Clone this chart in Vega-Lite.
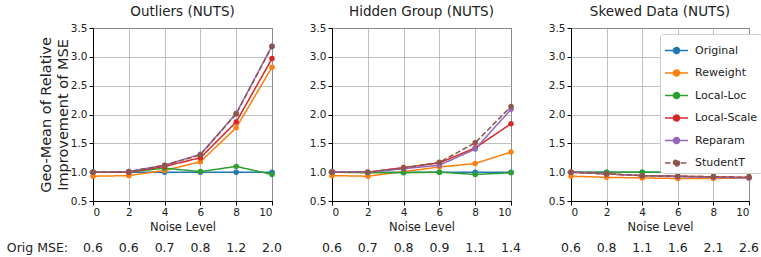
{
  "$schema": "https://vega.github.io/schema/vega-lite/v6.json",
  "padding": {"left": 6, "top": 4, "right": 0, "bottom": 0},
  "bounds": "flush",
  "spacing": 60,
  "config": {
    "font": "DejaVu Sans",
    "view": {"stroke": "black", "strokeWidth": 1},
    "axis": {"domainColor": "black", "tickColor": "black", "labelColor": "#222", "titleColor": "#222", "gridColor": "#b0b0b0", "gridWidth": 0.8, "labelFontSize": 10.5, "titleFontWeight": "normal", "tickSize": 4, "labelPadding": 2, "labelOverlap": false},
    "axisX": {"values": [0, 2, 4, 6, 8, 10], "titleFontSize": 11.5, "titlePadding": 4},
    "axisY": {"values": [0.5, 1, 1.5, 2, 2.5, 3, 3.5], "format": ".1f"},
    "title": {"fontSize": 13.5, "fontWeight": "normal", "color": "#222", "offset": 5},
    "text": {"font": "DejaVu Sans"}
  },
  "datasets": {
    "series": [
      {"panel": "Outliers", "method": "Original", "noise": 0, "value": 1.0},
      {"panel": "Outliers", "method": "Original", "noise": 2, "value": 1.0},
      {"panel": "Outliers", "method": "Original", "noise": 4, "value": 1.0},
      {"panel": "Outliers", "method": "Original", "noise": 6, "value": 1.0},
      {"panel": "Outliers", "method": "Original", "noise": 8, "value": 1.0},
      {"panel": "Outliers", "method": "Original", "noise": 10, "value": 1.0},
      {"panel": "Outliers", "method": "Reweight", "noise": 0, "value": 0.93},
      {"panel": "Outliers", "method": "Reweight", "noise": 2, "value": 0.94},
      {"panel": "Outliers", "method": "Reweight", "noise": 4, "value": 1.03},
      {"panel": "Outliers", "method": "Reweight", "noise": 6, "value": 1.18},
      {"panel": "Outliers", "method": "Reweight", "noise": 8, "value": 1.77},
      {"panel": "Outliers", "method": "Reweight", "noise": 10, "value": 2.82},
      {"panel": "Outliers", "method": "Local-Loc", "noise": 0, "value": 1.0},
      {"panel": "Outliers", "method": "Local-Loc", "noise": 2, "value": 1.0},
      {"panel": "Outliers", "method": "Local-Loc", "noise": 4, "value": 1.07},
      {"panel": "Outliers", "method": "Local-Loc", "noise": 6, "value": 1.01},
      {"panel": "Outliers", "method": "Local-Loc", "noise": 8, "value": 1.10},
      {"panel": "Outliers", "method": "Local-Loc", "noise": 10, "value": 0.96},
      {"panel": "Outliers", "method": "Local-Scale", "noise": 0, "value": 1.0},
      {"panel": "Outliers", "method": "Local-Scale", "noise": 2, "value": 1.0},
      {"panel": "Outliers", "method": "Local-Scale", "noise": 4, "value": 1.10},
      {"panel": "Outliers", "method": "Local-Scale", "noise": 6, "value": 1.25},
      {"panel": "Outliers", "method": "Local-Scale", "noise": 8, "value": 1.87},
      {"panel": "Outliers", "method": "Local-Scale", "noise": 10, "value": 2.97},
      {"panel": "Outliers", "method": "Reparam", "noise": 0, "value": 1.0},
      {"panel": "Outliers", "method": "Reparam", "noise": 2, "value": 1.01},
      {"panel": "Outliers", "method": "Reparam", "noise": 4, "value": 1.12},
      {"panel": "Outliers", "method": "Reparam", "noise": 6, "value": 1.31},
      {"panel": "Outliers", "method": "Reparam", "noise": 8, "value": 2.02},
      {"panel": "Outliers", "method": "Reparam", "noise": 10, "value": 3.19},
      {"panel": "Outliers", "method": "StudentT", "noise": 0, "value": 1.0},
      {"panel": "Outliers", "method": "StudentT", "noise": 2, "value": 1.01},
      {"panel": "Outliers", "method": "StudentT", "noise": 4, "value": 1.12},
      {"panel": "Outliers", "method": "StudentT", "noise": 6, "value": 1.30},
      {"panel": "Outliers", "method": "StudentT", "noise": 8, "value": 2.01},
      {"panel": "Outliers", "method": "StudentT", "noise": 10, "value": 3.18},
      {"panel": "Hidden", "method": "Original", "noise": 0, "value": 1.0},
      {"panel": "Hidden", "method": "Original", "noise": 2, "value": 1.0},
      {"panel": "Hidden", "method": "Original", "noise": 4, "value": 1.0},
      {"panel": "Hidden", "method": "Original", "noise": 6, "value": 1.0},
      {"panel": "Hidden", "method": "Original", "noise": 8, "value": 1.0},
      {"panel": "Hidden", "method": "Original", "noise": 10, "value": 1.0},
      {"panel": "Hidden", "method": "Reweight", "noise": 0, "value": 0.94},
      {"panel": "Hidden", "method": "Reweight", "noise": 2, "value": 0.93},
      {"panel": "Hidden", "method": "Reweight", "noise": 4, "value": 1.01},
      {"panel": "Hidden", "method": "Reweight", "noise": 6, "value": 1.09},
      {"panel": "Hidden", "method": "Reweight", "noise": 8, "value": 1.15},
      {"panel": "Hidden", "method": "Reweight", "noise": 10, "value": 1.35},
      {"panel": "Hidden", "method": "Local-Loc", "noise": 0, "value": 1.0},
      {"panel": "Hidden", "method": "Local-Loc", "noise": 2, "value": 0.99},
      {"panel": "Hidden", "method": "Local-Loc", "noise": 4, "value": 0.99},
      {"panel": "Hidden", "method": "Local-Loc", "noise": 6, "value": 1.0},
      {"panel": "Hidden", "method": "Local-Loc", "noise": 8, "value": 0.96},
      {"panel": "Hidden", "method": "Local-Loc", "noise": 10, "value": 0.99},
      {"panel": "Hidden", "method": "Local-Scale", "noise": 0, "value": 1.01},
      {"panel": "Hidden", "method": "Local-Scale", "noise": 2, "value": 1.0},
      {"panel": "Hidden", "method": "Local-Scale", "noise": 4, "value": 1.08},
      {"panel": "Hidden", "method": "Local-Scale", "noise": 6, "value": 1.16},
      {"panel": "Hidden", "method": "Local-Scale", "noise": 8, "value": 1.42},
      {"panel": "Hidden", "method": "Local-Scale", "noise": 10, "value": 1.84},
      {"panel": "Hidden", "method": "Reparam", "noise": 0, "value": 1.01},
      {"panel": "Hidden", "method": "Reparam", "noise": 2, "value": 1.0},
      {"panel": "Hidden", "method": "Reparam", "noise": 4, "value": 1.06},
      {"panel": "Hidden", "method": "Reparam", "noise": 6, "value": 1.12},
      {"panel": "Hidden", "method": "Reparam", "noise": 8, "value": 1.40},
      {"panel": "Hidden", "method": "Reparam", "noise": 10, "value": 2.09},
      {"panel": "Hidden", "method": "StudentT", "noise": 0, "value": 1.0},
      {"panel": "Hidden", "method": "StudentT", "noise": 2, "value": 1.0},
      {"panel": "Hidden", "method": "StudentT", "noise": 4, "value": 1.07},
      {"panel": "Hidden", "method": "StudentT", "noise": 6, "value": 1.17},
      {"panel": "Hidden", "method": "StudentT", "noise": 8, "value": 1.51},
      {"panel": "Hidden", "method": "StudentT", "noise": 10, "value": 2.14},
      {"panel": "Skewed", "method": "Original", "noise": 0, "value": 1.0},
      {"panel": "Skewed", "method": "Original", "noise": 2, "value": 1.0},
      {"panel": "Skewed", "method": "Original", "noise": 4, "value": 1.0},
      {"panel": "Skewed", "method": "Original", "noise": 6, "value": 1.0},
      {"panel": "Skewed", "method": "Original", "noise": 8, "value": 1.0},
      {"panel": "Skewed", "method": "Original", "noise": 10, "value": 1.0},
      {"panel": "Skewed", "method": "Reweight", "noise": 0, "value": 0.93},
      {"panel": "Skewed", "method": "Reweight", "noise": 2, "value": 0.91},
      {"panel": "Skewed", "method": "Reweight", "noise": 4, "value": 0.90},
      {"panel": "Skewed", "method": "Reweight", "noise": 6, "value": 0.89},
      {"panel": "Skewed", "method": "Reweight", "noise": 8, "value": 0.89},
      {"panel": "Skewed", "method": "Reweight", "noise": 10, "value": 0.90},
      {"panel": "Skewed", "method": "Local-Loc", "noise": 0, "value": 1.0},
      {"panel": "Skewed", "method": "Local-Loc", "noise": 2, "value": 1.0},
      {"panel": "Skewed", "method": "Local-Loc", "noise": 4, "value": 1.0},
      {"panel": "Skewed", "method": "Local-Loc", "noise": 6, "value": 1.0},
      {"panel": "Skewed", "method": "Local-Loc", "noise": 8, "value": 1.0},
      {"panel": "Skewed", "method": "Local-Loc", "noise": 10, "value": 1.0},
      {"panel": "Skewed", "method": "Local-Scale", "noise": 0, "value": 1.0},
      {"panel": "Skewed", "method": "Local-Scale", "noise": 2, "value": 0.97},
      {"panel": "Skewed", "method": "Local-Scale", "noise": 4, "value": 0.94},
      {"panel": "Skewed", "method": "Local-Scale", "noise": 6, "value": 0.93},
      {"panel": "Skewed", "method": "Local-Scale", "noise": 8, "value": 0.92},
      {"panel": "Skewed", "method": "Local-Scale", "noise": 10, "value": 0.91},
      {"panel": "Skewed", "method": "Reparam", "noise": 0, "value": 1.0},
      {"panel": "Skewed", "method": "Reparam", "noise": 2, "value": 0.97},
      {"panel": "Skewed", "method": "Reparam", "noise": 4, "value": 0.94},
      {"panel": "Skewed", "method": "Reparam", "noise": 6, "value": 0.92},
      {"panel": "Skewed", "method": "Reparam", "noise": 8, "value": 0.91},
      {"panel": "Skewed", "method": "Reparam", "noise": 10, "value": 0.90},
      {"panel": "Skewed", "method": "StudentT", "noise": 0, "value": 1.0},
      {"panel": "Skewed", "method": "StudentT", "noise": 2, "value": 0.97},
      {"panel": "Skewed", "method": "StudentT", "noise": 4, "value": 0.94},
      {"panel": "Skewed", "method": "StudentT", "noise": 6, "value": 0.93},
      {"panel": "Skewed", "method": "StudentT", "noise": 8, "value": 0.92},
      {"panel": "Skewed", "method": "StudentT", "noise": 10, "value": 0.91}
    ],
    "mse": [
      {"panel": "Outliers", "noise": 0, "mse": 0.6},
      {"panel": "Outliers", "noise": 2, "mse": 0.6},
      {"panel": "Outliers", "noise": 4, "mse": 0.7},
      {"panel": "Outliers", "noise": 6, "mse": 0.8},
      {"panel": "Outliers", "noise": 8, "mse": 1.2},
      {"panel": "Outliers", "noise": 10, "mse": 2.0},
      {"panel": "Hidden", "noise": 0, "mse": 0.6},
      {"panel": "Hidden", "noise": 2, "mse": 0.7},
      {"panel": "Hidden", "noise": 4, "mse": 0.8},
      {"panel": "Hidden", "noise": 6, "mse": 0.9},
      {"panel": "Hidden", "noise": 8, "mse": 1.1},
      {"panel": "Hidden", "noise": 10, "mse": 1.4},
      {"panel": "Skewed", "noise": 0, "mse": 0.6},
      {"panel": "Skewed", "noise": 2, "mse": 0.8},
      {"panel": "Skewed", "noise": 4, "mse": 1.1},
      {"panel": "Skewed", "noise": 6, "mse": 1.6},
      {"panel": "Skewed", "noise": 8, "mse": 2.1},
      {"panel": "Skewed", "noise": 10, "mse": 2.6}
    ]
  },
  "resolve": {"legend": {"color": "independent", "strokeDash": "independent"}},
  "hconcat": [
    {
      "width": 179, "height": 173,
      "title": "Outliers (NUTS)",
      "layer": [
        {
          "data": {"name": "series"},
          "transform": [{"filter": "datum.panel == 'Outliers'"}],
          "mark": {"type": "line", "strokeWidth": 1.5, "point": {"filled": true, "size": 30}},
          "encoding": {
            "x": {"field": "noise", "type": "quantitative", "title": "Noise Level", "scale": {"domain": [0, 10], "nice": false}},
            "y": {"field": "value", "type": "quantitative", "scale": {"domain": [0.5, 3.5], "nice": false, "zero": false}, "axis": {"title": ["Geo-Mean of Relative", "Improvement of MSE"], "titleFontSize": 14.5, "titlePadding": 0, "titleLineHeight": 17}},
            "color": {"field": "method", "type": "nominal", "scale": {"domain": ["Original", "Reweight", "Local-Loc", "Local-Scale", "Reparam", "StudentT"], "range": ["#1f77b4", "#ff7f0e", "#2ca02c", "#d62728", "#9467bd", "#8c564b"]}, "legend": null},
            "strokeDash": {"field": "method", "type": "nominal", "scale": {"domain": ["Original", "Reweight", "Local-Loc", "Local-Scale", "Reparam", "StudentT"], "range": [[1, 0], [1, 0], [1, 0], [1, 0], [1, 0], [5.5, 2.4]]}, "legend": null}
          }
        },
        {
          "data": {"name": "mse"},
          "transform": [{"filter": "datum.panel == 'Outliers'"}],
          "mark": {"type": "text", "dy": 47, "fontSize": 12.5, "color": "#222"},
          "encoding": {
            "x": {"field": "noise", "type": "quantitative", "title": "Noise Level"},
            "y": {"datum": 0.5},
            "text": {"field": "mse", "type": "quantitative", "format": ".1f"}
          }
        },
        {
          "data": {"values": [{"label": "Orig MSE:"}]},
          "mark": {"type": "text", "dy": 47, "dx": -25, "align": "right", "fontSize": 12.5, "color": "#222"},
          "encoding": {
            "x": {"datum": 0, "title": "Noise Level"},
            "y": {"datum": 0.5},
            "text": {"field": "label", "type": "nominal"}
          }
        }
      ]
    },
    {
      "width": 179, "height": 173,
      "title": "Hidden Group (NUTS)",
      "layer": [
        {
          "data": {"name": "series"},
          "transform": [{"filter": "datum.panel == 'Hidden'"}],
          "mark": {"type": "line", "strokeWidth": 1.5, "point": {"filled": true, "size": 30}},
          "encoding": {
            "x": {"field": "noise", "type": "quantitative", "title": "Noise Level", "scale": {"domain": [0, 10], "nice": false}},
            "y": {"field": "value", "type": "quantitative", "scale": {"domain": [0.5, 3.5], "nice": false, "zero": false}, "axis": {"title": null}},
            "color": {"field": "method", "type": "nominal", "scale": {"domain": ["Original", "Reweight", "Local-Loc", "Local-Scale", "Reparam", "StudentT"], "range": ["#1f77b4", "#ff7f0e", "#2ca02c", "#d62728", "#9467bd", "#8c564b"]}, "legend": null},
            "strokeDash": {"field": "method", "type": "nominal", "scale": {"domain": ["Original", "Reweight", "Local-Loc", "Local-Scale", "Reparam", "StudentT"], "range": [[1, 0], [1, 0], [1, 0], [1, 0], [1, 0], [5.5, 2.4]]}, "legend": null}
          }
        },
        {
          "data": {"name": "mse"},
          "transform": [{"filter": "datum.panel == 'Hidden'"}],
          "mark": {"type": "text", "dy": 47, "fontSize": 12.5, "color": "#222"},
          "encoding": {
            "x": {"field": "noise", "type": "quantitative", "title": "Noise Level"},
            "y": {"datum": 0.5},
            "text": {"field": "mse", "type": "quantitative", "format": ".1f"}
          }
        }
      ]
    },
    {
      "width": 178, "height": 173,
      "title": "Skewed Data (NUTS)",
      "layer": [
        {
          "data": {"name": "series"},
          "transform": [{"filter": "datum.panel == 'Skewed'"}],
          "mark": {"type": "line", "strokeWidth": 1.5, "point": {"filled": true, "size": 30}},
          "encoding": {
            "x": {"field": "noise", "type": "quantitative", "title": "Noise Level", "scale": {"domain": [0, 10], "nice": false}},
            "y": {"field": "value", "type": "quantitative", "scale": {"domain": [0.5, 3.5], "nice": false, "zero": false}, "axis": {"title": null}},
            "color": {"field": "method", "type": "nominal", "scale": {"domain": ["Original", "Reweight", "Local-Loc", "Local-Scale", "Reparam", "StudentT"], "range": ["#1f77b4", "#ff7f0e", "#2ca02c", "#d62728", "#9467bd", "#8c564b"]},
              "legend": {"title": null, "orient": "none", "legendX": 89, "legendY": 6, "symbolType": "M-1,0H1M0.26,0A0.26,0.26,0,1,1,-0.26,0A0.26,0.26,0,1,1,0.26,0Z", "symbolSize": 529, "symbolStrokeWidth": 1.5, "labelFontSize": 11, "labelColor": "#222", "rowPadding": 3.5, "labelOffset": 6, "fillColor": "white", "strokeColor": "#cccccc", "padding": 4, "cornerRadius": 3}},
            "strokeDash": {"field": "method", "type": "nominal", "scale": {"domain": ["Original", "Reweight", "Local-Loc", "Local-Scale", "Reparam", "StudentT"], "range": [[1, 0], [1, 0], [1, 0], [1, 0], [1, 0], [4, 2]]},
              "legend": {"title": null, "orient": "none", "legendX": 89, "legendY": 6, "symbolType": "M-1,0H1M0.26,0A0.26,0.26,0,1,1,-0.26,0A0.26,0.26,0,1,1,0.26,0Z", "symbolSize": 529, "symbolStrokeWidth": 1.5, "labelFontSize": 11, "labelColor": "#222", "rowPadding": 3.5, "labelOffset": 6, "fillColor": "white", "strokeColor": "#cccccc", "padding": 4, "cornerRadius": 3}}
          }
        },
        {
          "data": {"name": "mse"},
          "transform": [{"filter": "datum.panel == 'Skewed'"}],
          "mark": {"type": "text", "dy": 47, "fontSize": 12.5, "color": "#222"},
          "encoding": {
            "x": {"field": "noise", "type": "quantitative", "title": "Noise Level"},
            "y": {"datum": 0.5},
            "text": {"field": "mse", "type": "quantitative", "format": ".1f"}
          }
        }
      ]
    }
  ]
}
